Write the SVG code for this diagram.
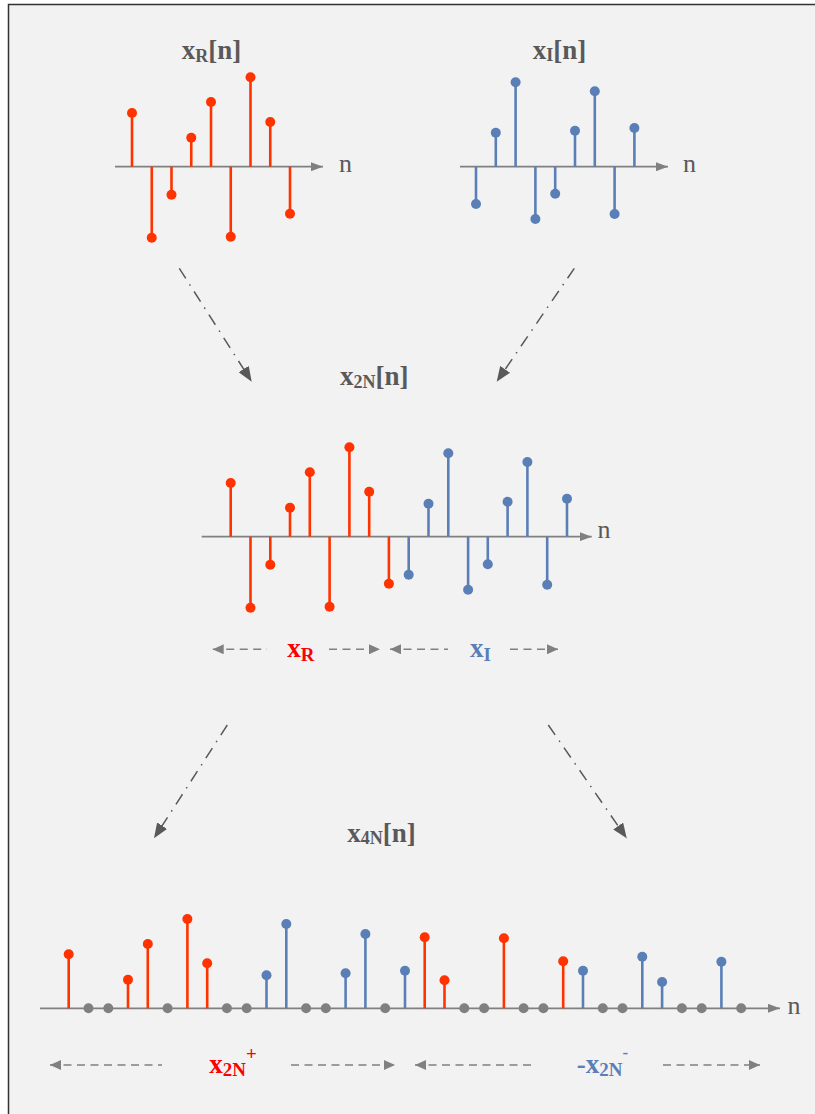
<svg xmlns="http://www.w3.org/2000/svg" width="815" height="1114" viewBox="0 0 815 1114">
<defs>
<style>
.ax{stroke:#808080;stroke-width:1.8;fill:none}
.r{stroke:#ff3300;stroke-width:2.6}
.b{stroke:#5a7fb7;stroke-width:2.6}
.rd{fill:#ff3300}
.bd{fill:#5a7fb7}
.gd{fill:#808080}
.ttl{font-family:"Liberation Serif","Times New Roman",serif;font-weight:bold;font-size:27px;fill:#595959}
.nl{font-family:"Liberation Serif","Times New Roman",serif;font-size:26px;fill:#595959}
.lab{font-family:"Liberation Serif","Times New Roman",serif;font-weight:bold;font-size:27px}
.conn{stroke:#595959;stroke-width:1.5;fill:none;stroke-dasharray:12 7 1.5 7}
.rng{stroke:#808080;stroke-width:1.6;fill:none;stroke-dasharray:8 5.5}
</style>
<marker id="ah" viewBox="0 0 15 12" refX="15" refY="6" markerWidth="15" markerHeight="12" markerUnits="userSpaceOnUse" orient="auto"><path d="M0,0 L15,6 L0,12 z" fill="#595959"/></marker>
<marker id="axh" viewBox="0 0 12 9" refX="12" refY="4.5" markerWidth="12" markerHeight="9" markerUnits="userSpaceOnUse" orient="auto"><path d="M0,0 L12,4.5 L0,9 z" fill="#808080"/></marker>
<marker id="rh" viewBox="0 0 11 10" refX="11" refY="5" markerWidth="11" markerHeight="10" markerUnits="userSpaceOnUse" orient="auto-start-reverse"><path d="M0,0 L11,5 L0,10 z" fill="#808080"/></marker>
</defs>
<rect x="0" y="0" width="815" height="1114" fill="#ffffff"/>
<rect x="8.5" y="4.5" width="830" height="1130" fill="#f2f2f2" stroke="#333333" stroke-width="1.5"/>

<g id="xR">
<text class="ttl" x="181.7" y="59.3">x<tspan font-size="18" dy="2.5">R</tspan><tspan dy="-2.5">[n]</tspan></text>
<line class="ax" x1="115" y1="166.7" x2="323" y2="166.7" marker-end="url(#axh)"/>
<text class="nl" x="339" y="171.5">n</text>
<g class="r">
<line x1="132" y1="166.7" x2="132" y2="113"/>
<line x1="151.75" y1="166.7" x2="151.75" y2="237.7"/>
<line x1="171.5" y1="166.7" x2="171.5" y2="194.7"/>
<line x1="191.25" y1="166.7" x2="191.25" y2="137.7"/>
<line x1="211" y1="166.7" x2="211" y2="102"/>
<line x1="230.75" y1="166.7" x2="230.75" y2="236.7"/>
<line x1="250.5" y1="166.7" x2="250.5" y2="77.3"/>
<line x1="270.25" y1="166.7" x2="270.25" y2="122"/>
<line x1="290" y1="166.7" x2="290" y2="213.7"/>
</g>
<g class="rd">
<circle cx="132" cy="113" r="5"/>
<circle cx="151.75" cy="237.7" r="5"/>
<circle cx="171.5" cy="194.7" r="5"/>
<circle cx="191.25" cy="137.7" r="5"/>
<circle cx="211" cy="102" r="5"/>
<circle cx="230.75" cy="236.7" r="5"/>
<circle cx="250.5" cy="77.3" r="5"/>
<circle cx="270.25" cy="122" r="5"/>
<circle cx="290" cy="213.7" r="5"/>
</g>
</g>

<g id="xI">
<text class="ttl" x="532.7" y="58.5">x<tspan font-size="18" dy="2.5">I</tspan><tspan dy="-2.5">[n]</tspan></text>
<line class="ax" x1="460" y1="166.7" x2="668" y2="166.7" marker-end="url(#axh)"/>
<text class="nl" x="683" y="171.5">n</text>
<g class="b">
<line x1="476" y1="166.7" x2="476" y2="204"/>
<line x1="495.8" y1="166.7" x2="495.8" y2="132.7"/>
<line x1="515.6" y1="166.7" x2="515.6" y2="82.3"/>
<line x1="535.4" y1="166.7" x2="535.4" y2="219"/>
<line x1="555.2" y1="166.7" x2="555.2" y2="193.7"/>
<line x1="575" y1="166.7" x2="575" y2="130.7"/>
<line x1="594.8" y1="166.7" x2="594.8" y2="91.3"/>
<line x1="614.6" y1="166.7" x2="614.6" y2="214"/>
<line x1="634.4" y1="166.7" x2="634.4" y2="128"/>
</g>
<g class="bd">
<circle cx="476" cy="204" r="5"/>
<circle cx="495.8" cy="132.7" r="5"/>
<circle cx="515.6" cy="82.3" r="5"/>
<circle cx="535.4" cy="219" r="5"/>
<circle cx="555.2" cy="193.7" r="5"/>
<circle cx="575" cy="130.7" r="5"/>
<circle cx="594.8" cy="91.3" r="5"/>
<circle cx="614.6" cy="214" r="5"/>
<circle cx="634.4" cy="128" r="5"/>
</g>
</g>

<g id="x2N">
<text class="ttl" x="340" y="385">x<tspan font-size="18" dy="2.5">2N</tspan><tspan dy="-2.5">[n]</tspan></text>
<line class="ax" x1="201.7" y1="536.7" x2="591.7" y2="536.7" marker-end="url(#axh)"/>
<text class="nl" x="597.5" y="537.5">n</text>
<g class="r">
<line x1="230.7" y1="536.7" x2="230.7" y2="483"/>
<line x1="250.5" y1="536.7" x2="250.5" y2="607.7"/>
<line x1="270.3" y1="536.7" x2="270.3" y2="564.7"/>
<line x1="290" y1="536.7" x2="290" y2="507.7"/>
<line x1="309.8" y1="536.7" x2="309.8" y2="472.3"/>
<line x1="329.6" y1="536.7" x2="329.6" y2="606.7"/>
<line x1="349.4" y1="536.7" x2="349.4" y2="447.3"/>
<line x1="369.2" y1="536.7" x2="369.2" y2="491.7"/>
<line x1="388.9" y1="536.7" x2="388.9" y2="583.7"/>
</g>
<g class="rd">
<circle cx="230.7" cy="483" r="5"/>
<circle cx="250.5" cy="607.7" r="5"/>
<circle cx="270.3" cy="564.7" r="5"/>
<circle cx="290" cy="507.7" r="5"/>
<circle cx="309.8" cy="472.3" r="5"/>
<circle cx="329.6" cy="606.7" r="5"/>
<circle cx="349.4" cy="447.3" r="5"/>
<circle cx="369.2" cy="491.7" r="5"/>
<circle cx="388.9" cy="583.7" r="5"/>
</g>
<g class="b">
<line x1="408.7" y1="536.7" x2="408.7" y2="574.7"/>
<line x1="428.5" y1="536.7" x2="428.5" y2="503.7"/>
<line x1="448.3" y1="536.7" x2="448.3" y2="453.3"/>
<line x1="468.1" y1="536.7" x2="468.1" y2="589.7"/>
<line x1="487.8" y1="536.7" x2="487.8" y2="564.3"/>
<line x1="507.6" y1="536.7" x2="507.6" y2="501.7"/>
<line x1="527.4" y1="536.7" x2="527.4" y2="462"/>
<line x1="547.2" y1="536.7" x2="547.2" y2="584.7"/>
<line x1="567" y1="536.7" x2="567" y2="498.7"/>
</g>
<g class="bd">
<circle cx="408.7" cy="574.7" r="5"/>
<circle cx="428.5" cy="503.7" r="5"/>
<circle cx="448.3" cy="453.3" r="5"/>
<circle cx="468.1" cy="589.7" r="5"/>
<circle cx="487.8" cy="564.3" r="5"/>
<circle cx="507.6" cy="501.7" r="5"/>
<circle cx="527.4" cy="462" r="5"/>
<circle cx="547.2" cy="584.7" r="5"/>
<circle cx="567" cy="498.7" r="5"/>
</g>
<text class="lab" x="287.3" y="656.7" fill="#ff0000">x<tspan font-size="19" dy="4">R</tspan></text>
<text class="lab" x="470" y="656.7" fill="#5a7fb7">x<tspan font-size="19" dy="4">I</tspan></text>
</g>

<g id="x4N">
<text class="ttl" x="347.3" y="841.7">x<tspan font-size="18" dy="2.5">4N</tspan><tspan dy="-2.5">[n]</tspan></text>
<line class="ax" x1="40" y1="1008.3" x2="780" y2="1008.3" marker-end="url(#axh)"/>
<text class="nl" x="787.5" y="1013.5">n</text>
<g class="r">
<line x1="68.7" y1="1008.3" x2="68.7" y2="954.3"/>
<line x1="128.0" y1="1008.3" x2="128.0" y2="979.7"/>
<line x1="147.8" y1="1008.3" x2="147.8" y2="944"/>
<line x1="187.4" y1="1008.3" x2="187.4" y2="919"/>
<line x1="207.2" y1="1008.3" x2="207.2" y2="963.3"/>
<line x1="424.7" y1="1008.3" x2="424.7" y2="937.3"/>
<line x1="444.5" y1="1008.3" x2="444.5" y2="980.3"/>
<line x1="503.9" y1="1008.3" x2="503.9" y2="938.3"/>
<line x1="563.2" y1="1008.3" x2="563.2" y2="961.3"/>
</g>
<g class="rd">
<circle cx="68.7" cy="954.3" r="5"/>
<circle cx="128.0" cy="979.7" r="5"/>
<circle cx="147.8" cy="944" r="5"/>
<circle cx="187.4" cy="919" r="5"/>
<circle cx="207.2" cy="963.3" r="5"/>
<circle cx="424.7" cy="937.3" r="5"/>
<circle cx="444.5" cy="980.3" r="5"/>
<circle cx="503.9" cy="938.3" r="5"/>
<circle cx="563.2" cy="961.3" r="5"/>
</g>
<g class="b">
<line x1="266.5" y1="1008.3" x2="266.5" y2="975.3"/>
<line x1="286.3" y1="1008.3" x2="286.3" y2="924"/>
<line x1="345.6" y1="1008.3" x2="345.6" y2="973.3"/>
<line x1="365.4" y1="1008.3" x2="365.4" y2="934"/>
<line x1="405" y1="1008.3" x2="405" y2="970.7"/>
<line x1="583" y1="1008.3" x2="583" y2="970.7"/>
<line x1="642.3" y1="1008.3" x2="642.3" y2="956.7"/>
<line x1="662.1" y1="1008.3" x2="662.1" y2="982"/>
<line x1="721.4" y1="1008.3" x2="721.4" y2="961.7"/>
</g>
<g class="bd">
<circle cx="266.5" cy="975.3" r="5"/>
<circle cx="286.3" cy="924" r="5"/>
<circle cx="345.6" cy="973.3" r="5"/>
<circle cx="365.4" cy="934" r="5"/>
<circle cx="405" cy="970.7" r="5"/>
<circle cx="583" cy="970.7" r="5"/>
<circle cx="642.3" cy="956.7" r="5"/>
<circle cx="662.1" cy="982" r="5"/>
<circle cx="721.4" cy="961.7" r="5"/>
</g>
<g class="gd">
<circle cx="88.5" cy="1008.3" r="5"/>
<circle cx="108.3" cy="1008.3" r="5"/>
<circle cx="167.6" cy="1008.3" r="5"/>
<circle cx="226.9" cy="1008.3" r="5"/>
<circle cx="246.7" cy="1008.3" r="5"/>
<circle cx="306.1" cy="1008.3" r="5"/>
<circle cx="325.8" cy="1008.3" r="5"/>
<circle cx="385.2" cy="1008.3" r="5"/>
<circle cx="464.3" cy="1008.3" r="5"/>
<circle cx="484.1" cy="1008.3" r="5"/>
<circle cx="523.6" cy="1008.3" r="5"/>
<circle cx="543.4" cy="1008.3" r="5"/>
<circle cx="602.8" cy="1008.3" r="5"/>
<circle cx="622.5" cy="1008.3" r="5"/>
<circle cx="681.9" cy="1008.3" r="5"/>
<circle cx="701.7" cy="1008.3" r="5"/>
<circle cx="741.2" cy="1008.3" r="5"/>
</g>
<text class="lab" x="209.3" y="1073.3" fill="#ff0000">x<tspan font-size="19" dy="3">2N</tspan><tspan font-size="19" dy="-16">+</tspan></text>
<text class="lab" x="576.7" y="1073.3" fill="#5a7fb7">-x<tspan font-size="19" dy="3">2N</tspan><tspan font-size="17" dy="-18">-</tspan></text>
</g>

<g id="connectors">
<line class="conn" x1="179.3" y1="268.3" x2="251.7" y2="381.7" marker-end="url(#ah)"/>
<line class="conn" x1="574.3" y1="268.3" x2="496.7" y2="381.7" marker-end="url(#ah)"/>
<line class="conn" x1="227.3" y1="725" x2="154" y2="838.3" marker-end="url(#ah)"/>
<line class="conn" x1="548.3" y1="725" x2="626.7" y2="838.3" marker-end="url(#ah)"/>
<line class="rng" x1="212.7" y1="649.3" x2="267" y2="649.3" marker-start="url(#rh)"/>
<line class="rng" x1="329" y1="649.3" x2="380" y2="649.3" marker-end="url(#rh)"/>
<line class="rng" x1="390" y1="649.3" x2="448" y2="649.3" marker-start="url(#rh)"/>
<line class="rng" x1="510" y1="649.3" x2="558" y2="649.3" marker-end="url(#rh)"/>
<line class="rng" x1="50" y1="1065" x2="162" y2="1065" marker-start="url(#rh)"/>
<line class="rng" x1="291" y1="1065" x2="395" y2="1065" marker-end="url(#rh)"/>
<line class="rng" x1="415" y1="1065" x2="534" y2="1065" marker-start="url(#rh)"/>
<line class="rng" x1="663" y1="1065" x2="760" y2="1065" marker-end="url(#rh)"/>
</g>
</svg>
